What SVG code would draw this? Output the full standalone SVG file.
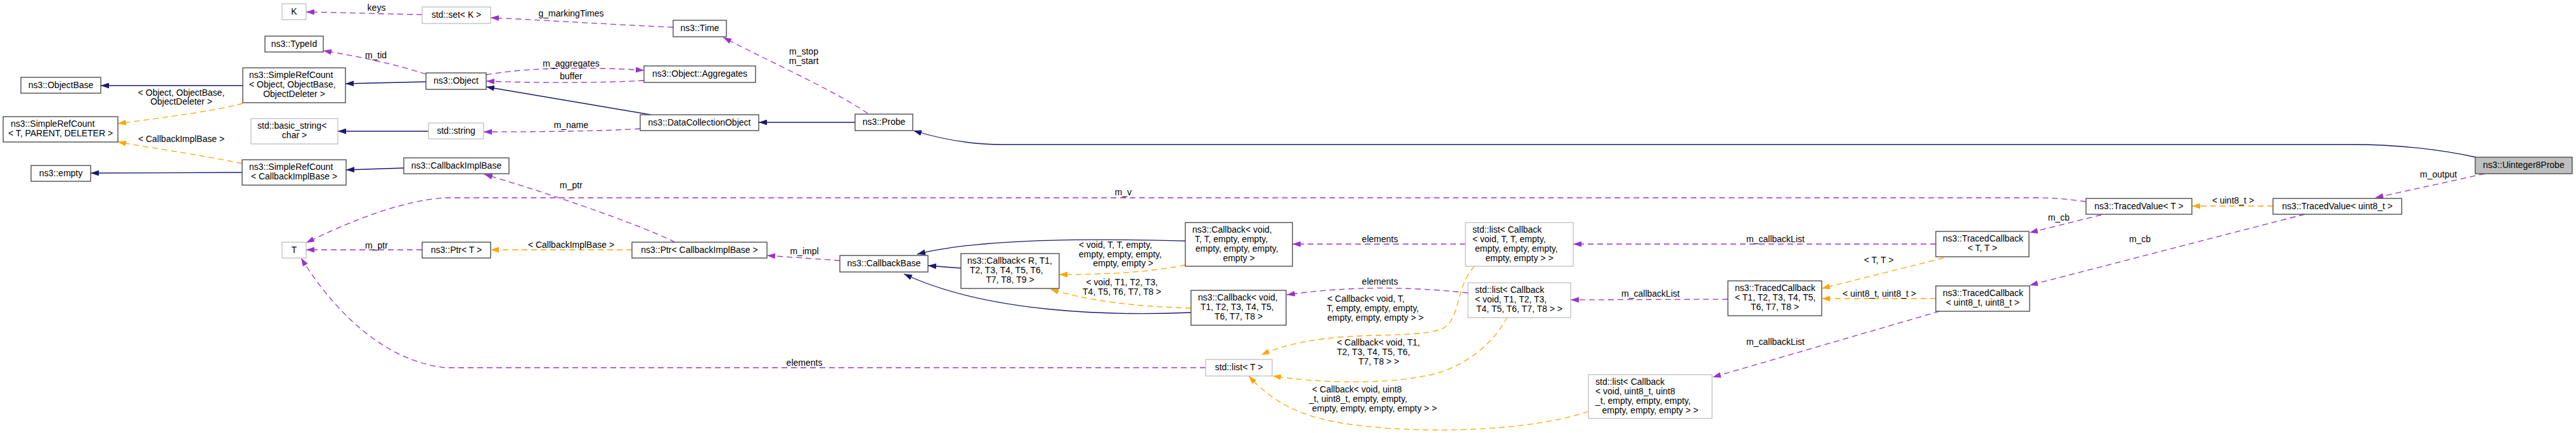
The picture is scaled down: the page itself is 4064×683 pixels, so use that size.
<svg xmlns="http://www.w3.org/2000/svg" width="4064" height="683" viewBox="0 0 4064 683">
<style>
text{font-family:"Liberation Sans",Arial,sans-serif;font-size:14px;fill:#000}
.c{text-anchor:middle}
.n rect{fill:#fff;stroke:#404040;stroke-width:1.3}
.u rect{fill:#fff;stroke:#bfbfbf;stroke-width:1.3}
.root rect{fill:#bfbfbf;stroke:#404040;stroke-width:1.3}
.inh{fill:none;stroke:#191970;stroke-width:1.3;marker-end:url(#an)}
.use{fill:none;stroke:#9a32cd;stroke-width:1.3;stroke-dasharray:9,6;marker-end:url(#ap)}
.tpl{fill:none;stroke:#ffa500;stroke-width:1.3;stroke-dasharray:9,6;marker-end:url(#ao)}
</style>
<defs>
<marker id="an" viewBox="0 0 13 9" refX="13" refY="4.5" markerWidth="13" markerHeight="9" markerUnits="userSpaceOnUse" orient="auto"><path d="M0,0 L13,4.5 L0,9 z" fill="#191970"/></marker>
<marker id="ap" viewBox="0 0 13 9" refX="13" refY="4.5" markerWidth="13" markerHeight="9" markerUnits="userSpaceOnUse" orient="auto"><path d="M0,0 L13,4.5 L0,9 z" fill="#9a32cd"/></marker>
<marker id="ao" viewBox="0 0 13 9" refX="13" refY="4.5" markerWidth="13" markerHeight="9" markerUnits="userSpaceOnUse" orient="auto"><path d="M0,0 L13,4.5 L0,9 z" fill="#ffa500"/></marker>
</defs>
<rect width="4064" height="683" fill="#fff"/>
<g id="edges">
<path class="inh" d="M3906,248 C3850,236 3780,228 3712,228 L1581,228 C1530,228 1480,218 1441,206"/>
<path class="inh" d="M1349,193 L1197,193"/>
<path class="inh" d="M1027,181 L767,137"/>
<path class="inh" d="M672,129 L545,132"/>
<path class="inh" d="M383,135 L159,135"/>
<path class="inh" d="M676,207 L533,207"/>
<path class="inh" d="M382,272 L143,273"/>
<path class="inh" d="M637,265 L546,268"/>
<path class="inh" d="M1870,380 C1780,378 1560,372 1447,401"/>
<path class="inh" d="M1516,423 L1464,419"/>
<path class="inh" d="M1879,493 C1760,498 1560,495 1426,432"/>

<path class="tpl" d="M383,163 C340,175 260,185 186,195"/>
<text class="c" x="286" y="151">&lt; Object, ObjectBase,</text>
<text class="c" x="286" y="165">ObjectDeleter &gt;</text>
<path class="tpl" d="M382,258 C320,245 250,235 186,224"/>
<text class="c" x="286" y="224">&lt; CallbackImplBase &gt;</text>
<path class="tpl" d="M997,394 L774,394"/>
<text class="c" x="901" y="391">&lt; CallbackImplBase &gt;</text>
<path class="tpl" d="M1870,418 C1820,428 1760,433 1671,433"/>
<text x="1702" y="391">&lt; void, T, T, empty,</text>
<text x="1702" y="405.5">empty, empty, empty,</text>
<text class="c" x="1772" y="420">empty, empty &gt;</text>
<path class="tpl" d="M1879,486 C1800,484 1720,476 1657,456"/>
<text class="c" x="1770" y="449.5">&lt; void, T1, T2, T3,</text>
<text class="c" x="1770" y="464.5">T4, T5, T6, T7, T8 &gt;</text>
<path class="tpl" d="M2326,420 C2295,455 2305,500 2278,517 C2250,533 2150,525 2084,535 C2040,541 2010,550 1990,560"/>
<text x="2094" y="476">&lt; Callback&lt; void, T,</text>
<text x="2093" y="491">T, empty, empty, empty,</text>
<text x="2094" y="505.5">empty, empty, empty &gt; &gt;</text>
<path class="tpl" d="M2378,500 C2360,535 2320,575 2262,590 C2200,605 2100,607 2008,593"/>
<text x="2109" y="545">&lt; Callback&lt; void, T1,</text>
<text x="2109" y="560">T2, T3, T4, T5, T6,</text>
<text x="2143" y="574.5">T7, T8 &gt; &gt;</text>
<path class="tpl" d="M2506,649 C2400,685 2200,685 2100,664 C2030,650 1995,620 1970,593"/>
<text x="2070" y="618.5">&lt; Callback&lt; void, uint8</text>
<text x="2065" y="633.5">_t, uint8_t, empty, empty,</text>
<text x="2070" y="648.5">empty, empty, empty, empty &gt; &gt;</text>
<path class="tpl" d="M3066,407 L2874,455"/>
<text class="c" x="2964" y="414.5">&lt; T, T &gt;</text>
<path class="tpl" d="M3054,471 L2874,471"/>
<text class="c" x="2965" y="467.5">&lt; uint8_t, uint8_t &gt;</text>
<path class="tpl" d="M3586,325 L3458,325"/>
<text class="c" x="3523" y="321">&lt; uint8_t &gt;</text>

<path class="use" d="M666,23 C600,22 520,19 483,19"/>
<text class="c" x="594" y="16.5">keys</text>
<path class="use" d="M1062,43 C950,38 830,30 774,28"/>
<text class="c" x="901" y="25.5">g_markingTimes</text>
<path class="use" d="M1369,179 C1320,145 1230,105 1141,59"/>
<text class="c" x="1268" y="85.5">m_stop</text>
<text class="c" x="1268" y="100.5">m_start</text>
<path class="use" d="M672,117 C620,100 560,88 510,80"/>
<text class="c" x="593" y="91.5">m_tid</text>
<path class="use" d="M767,118 C820,108 920,104 1016,111"/>
<text class="c" x="901" y="104.5">m_aggregates</text>
<path class="use" d="M1016,127 C950,131 850,131 767,128"/>
<text class="c" x="901" y="124.5">buffer</text>
<path class="use" d="M1010,203 C950,207 850,208 763,208"/>
<text class="c" x="901" y="201.5">m_name</text>
<path class="use" d="M1065,382 C1000,350 850,300 764,275"/>
<text class="c" x="901" y="296.5">m_ptr</text>
<path class="use" d="M1325,411 L1210,403"/>
<text class="c" x="1269" y="400.5">m_impl</text>
<path class="use" d="M666,394 L483,394"/>
<text class="c" x="594" y="391.5">m_ptr</text>
<path class="use" d="M3291,318 C3260,314 3240,312 3212,312 L704,312 C640,315 560,345 483,383"/>
<text class="c" x="1772" y="307.5">m_v</text>
<path class="use" d="M1902,580 L704,580 C600,570 520,480 475,407"/>
<text class="c" x="1269" y="576.5">elements</text>
<path class="use" d="M2312,385 L2039,385"/>
<text class="c" x="2177" y="381.5">elements</text>
<path class="use" d="M2316,462 C2250,455 2150,448 2030,465"/>
<text class="c" x="2177" y="448.5">elements</text>
<path class="use" d="M3054,385 L2482,385"/>
<text class="c" x="2801" y="381.5">m_callbackList</text>
<path class="use" d="M2726,472 L2478,473"/>
<text class="c" x="2604" y="467.5">m_callbackList</text>
<path class="use" d="M3060,491 L2702,595"/>
<text class="c" x="2801" y="543.5">m_callbackList</text>
<path class="use" d="M3315,339 L3202,367"/>
<text class="c" x="3248" y="347.5">m_cb</text>
<path class="use" d="M3636,338 L3202,450"/>
<text class="c" x="3376" y="381.5">m_cb</text>
<path class="use" d="M3920,274 L3747,312"/>
<text class="c" x="3847" y="279.5">m_output</text>
</g>

<g id="node-uinteger8probe" class="root"><rect x="3905" y="248" width="153" height="26"/><text class="c" x="3981.5" y="265">ns3::Uinteger8Probe</text></g>
<g id="node-probe" class="n"><rect x="1349" y="180" width="91" height="26"/><text class="c" x="1394.5" y="197">ns3::Probe</text></g>
<g id="node-datacollectionobject" class="n"><rect x="1010" y="181" width="187" height="25"/><text class="c" x="1103.5" y="198">ns3::DataCollectionObject</text></g>
<g id="node-object" class="n"><rect x="672" y="115" width="95" height="26"/><text class="c" x="719.5" y="132">ns3::Object</text></g>
<g id="node-simplerefcount-object" class="n"><rect x="383" y="107" width="162" height="55"/><text x="393" y="123">ns3::SimpleRefCount</text><text x="393" y="138">&lt; Object, ObjectBase,</text><text class="c" x="464" y="153">ObjectDeleter &gt;</text></g>
<g id="node-objectbase" class="n"><rect x="33" y="122" width="126" height="25"/><text class="c" x="96" y="139">ns3::ObjectBase</text></g>
<g id="node-simplerefcount-tpd" class="n"><rect x="5" y="184" width="181" height="40"/><text x="17" y="200">ns3::SimpleRefCount</text><text class="c" x="95.5" y="215">&lt; T, PARENT, DELETER &gt;</text></g>
<g id="node-typeid" class="n"><rect x="418" y="57" width="92" height="25"/><text class="c" x="464" y="74">ns3::TypeId</text></g>
<g id="node-aggregates" class="n"><rect x="1016" y="104" width="176" height="26"/><text class="c" x="1104" y="121">ns3::Object::Aggregates</text></g>
<g id="node-time" class="n"><rect x="1062" y="32" width="84" height="26"/><text class="c" x="1104" y="49">ns3::Time</text></g>
<g id="node-set-k" class="u"><rect x="666" y="11" width="108" height="26"/><text class="c" x="720" y="28">std::set&lt; K &gt;</text></g>
<g id="node-k" class="u"><rect x="445" y="6" width="38" height="25"/><text class="c" x="464" y="23">K</text></g>
<g id="node-string" class="u"><rect x="676" y="194" width="87" height="25"/><text class="c" x="719.5" y="211">std::string</text></g>
<g id="node-basic-string" class="u"><rect x="396" y="187" width="137" height="40"/><text x="406" y="203">std::basic_string&lt;</text><text class="c" x="464.5" y="218">char &gt;</text></g>
<g id="node-callbackimplbase" class="n"><rect x="637" y="249" width="166" height="25"/><text class="c" x="720" y="266">ns3::CallbackImplBase</text></g>
<g id="node-simplerefcount-cib" class="n"><rect x="382" y="252" width="164" height="40"/><text x="393" y="268">ns3::SimpleRefCount</text><text class="c" x="464" y="283">&lt; CallbackImplBase &gt;</text></g>
<g id="node-empty" class="n"><rect x="49" y="261" width="94" height="25"/><text class="c" x="96" y="278">ns3::empty</text></g>
<g id="node-t" class="u"><rect x="445" y="382" width="38" height="25"/><text class="c" x="464" y="399">T</text></g>
<g id="node-ptr-t" class="n"><rect x="666" y="382" width="108" height="25"/><text class="c" x="720" y="399">ns3::Ptr&lt; T &gt;</text></g>
<g id="node-ptr-cib" class="n"><rect x="997" y="382" width="213" height="25"/><text class="c" x="1103.5" y="399">ns3::Ptr&lt; CallbackImplBase &gt;</text></g>
<g id="node-callbackbase" class="n"><rect x="1325" y="403" width="139" height="26"/><text class="c" x="1394.5" y="420">ns3::CallbackBase</text></g>
<g id="node-callback-r" class="n"><rect x="1516" y="400" width="155" height="55"/><text x="1526" y="416">ns3::Callback&lt; R, T1,</text><text x="1530" y="431">T2, T3, T4, T5, T6,</text><text class="c" x="1593.5" y="446">T7, T8, T9 &gt;</text></g>
<g id="node-callback-void-tt" class="n"><rect x="1870" y="351" width="169" height="69"/><text x="1881" y="367">ns3::Callback&lt; void,</text><text x="1885" y="382">T, T, empty, empty,</text><text x="1886" y="397">empty, empty, empty,</text><text class="c" x="1954.5" y="412">empty &gt;</text></g>
<g id="node-callback-void-t1" class="n"><rect x="1879" y="458" width="150" height="55"/><text x="1890" y="474">ns3::Callback&lt; void,</text><text x="1894" y="489">T1, T2, T3, T4, T5,</text><text class="c" x="1954" y="504">T6, T7, T8 &gt;</text></g>
<g id="node-list-t" class="u"><rect x="1902" y="567" width="105" height="26"/><text class="c" x="1954.5" y="584">std::list&lt; T &gt;</text></g>
<g id="node-list-cb-tt" class="u"><rect x="2312" y="351" width="170" height="69"/><text x="2323" y="367">std::list&lt; Callback</text><text x="2323" y="382">&lt; void, T, T, empty,</text><text x="2327" y="397">empty, empty, empty,</text><text class="c" x="2397" y="412">empty, empty &gt; &gt;</text></g>
<g id="node-list-cb-t1" class="u"><rect x="2316" y="446" width="162" height="55"/><text x="2327" y="462">std::list&lt; Callback</text><text x="2327" y="477">&lt; void, T1, T2, T3,</text><text class="c" x="2397" y="492">T4, T5, T6, T7, T8 &gt; &gt;</text></g>
<g id="node-list-cb-u8" class="u"><rect x="2506" y="591" width="195" height="69"/><text x="2517" y="607">std::list&lt; Callback</text><text x="2517" y="622">&lt; void, uint8_t, uint8</text><text x="2517" y="637">_t, empty, empty, empty,</text><text class="c" x="2603.5" y="652">empty, empty, empty &gt; &gt;</text></g>
<g id="node-tracedcallback-t1" class="n"><rect x="2726" y="443" width="148" height="55"/><text x="2737" y="459">ns3::TracedCallback</text><text x="2737" y="474">&lt; T1, T2, T3, T4, T5,</text><text class="c" x="2800" y="489">T6, T7, T8 &gt;</text></g>
<g id="node-tracedcallback-tt" class="n"><rect x="3054" y="365" width="147" height="40"/><text x="3065" y="381">ns3::TracedCallback</text><text class="c" x="3127.5" y="396">&lt; T, T &gt;</text></g>
<g id="node-tracedcallback-u8" class="n"><rect x="3054" y="451" width="148" height="40"/><text x="3065" y="467">ns3::TracedCallback</text><text class="c" x="3128" y="482">&lt; uint8_t, uint8_t &gt;</text></g>
<g id="node-tracedvalue-t" class="n"><rect x="3291" y="313" width="167" height="25"/><text class="c" x="3374.5" y="330">ns3::TracedValue&lt; T &gt;</text></g>
<g id="node-tracedvalue-u8" class="n"><rect x="3586" y="313" width="203" height="25"/><text class="c" x="3687.5" y="330">ns3::TracedValue&lt; uint8_t &gt;</text></g>
</svg>
